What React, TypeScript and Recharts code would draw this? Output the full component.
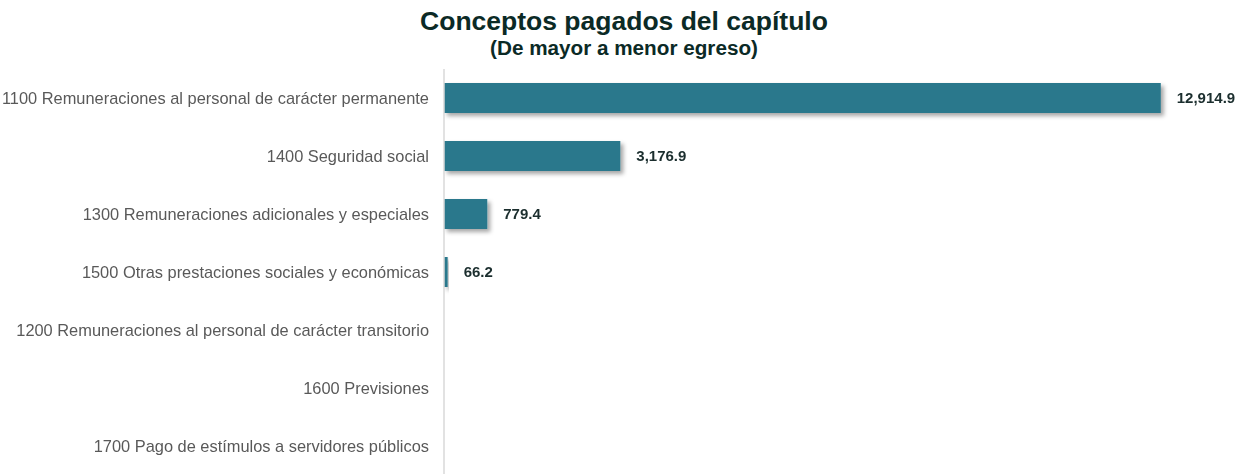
import { Bar, BarChart, LabelList, XAxis, YAxis } from 'recharts'

const categories = [
  '1100 Remuneraciones al personal de carácter permanente',
  '1400 Seguridad social',
  '1300 Remuneraciones adicionales y especiales',
  '1500 Otras prestaciones sociales y económicas',
  '1200 Remuneraciones al personal de carácter transitorio',
  '1600 Previsiones',
  '1700 Pago de estímulos a servidores públicos',
]

const amounts = [12914.9, 3176.9, 779.4, 66.2, 0, 0, 0]

const data = categories.map((name, i) => ({ name, value: amounts[i] }))

function formatAmount(value: number) {
  if (!value) return ''
  return value.toLocaleString('en-US', { minimumFractionDigits: 1, maximumFractionDigits: 1 })
}

const font = '"Liberation Sans", Arial, sans-serif'

export default function App() {
  return (
    <div style={{ position: 'fixed', top: 0, left: 0, width: 1244, height: 474, background: '#fff', fontFamily: font }}>
      <svg width={0} height={0} style={{ position: 'absolute' }}>
        <defs>
          <filter id="barShadow" x="-10%" y="-20%" width="130%" height="160%">
            <feDropShadow dx="3" dy="3" stdDeviation="2" floodColor="#000" floodOpacity={0.35} />
          </filter>
        </defs>
      </svg>
      <div
        style={{
          position: 'absolute',
          top: 6,
          left: 0,
          width: 1244,
          textAlign: 'center',
          color: '#0b2a26',
          fontWeight: 'bold',
          paddingLeft: 2,
        }}
      >
        <div style={{ fontSize: 26.5, lineHeight: '30px' }}>Conceptos pagados del capítulo</div>
        <div style={{ fontSize: 20.7, lineHeight: '23px' }}>(De mayor a menor egreso)</div>
      </div>
      <div style={{ position: 'absolute', top: 69, left: 0 }}>
        <BarChart
          width={1244}
          height={406}
          data={data}
          layout="vertical"
          margin={{ top: 0, right: 23, left: 0, bottom: 0 }}
        >
          <XAxis type="number" domain={[0, 14000]} hide />
          <YAxis
            type="category"
            dataKey="name"
            width={444}
            axisLine={{ stroke: '#d9d9d9', strokeWidth: 1.5 }}
            tickLine={false}
            tickMargin={9}
            interval={0}
            tick={{ fontSize: 16.4, fill: '#595959', fontFamily: font }}
          />
          <Bar
            dataKey="value"
            fill="#29788c"
            barSize={30}
            filter="url(#barShadow)"
            isAnimationActive={false}
          >
            <LabelList
              dataKey="value"
              position="right"
              offset={16}
              formatter={(v: number) => formatAmount(v)}
              style={{ fontSize: 15, fontWeight: 'bold', fill: '#1b2e2e', fontFamily: font }}
            />
          </Bar>
        </BarChart>
      </div>
    </div>
  )
}
